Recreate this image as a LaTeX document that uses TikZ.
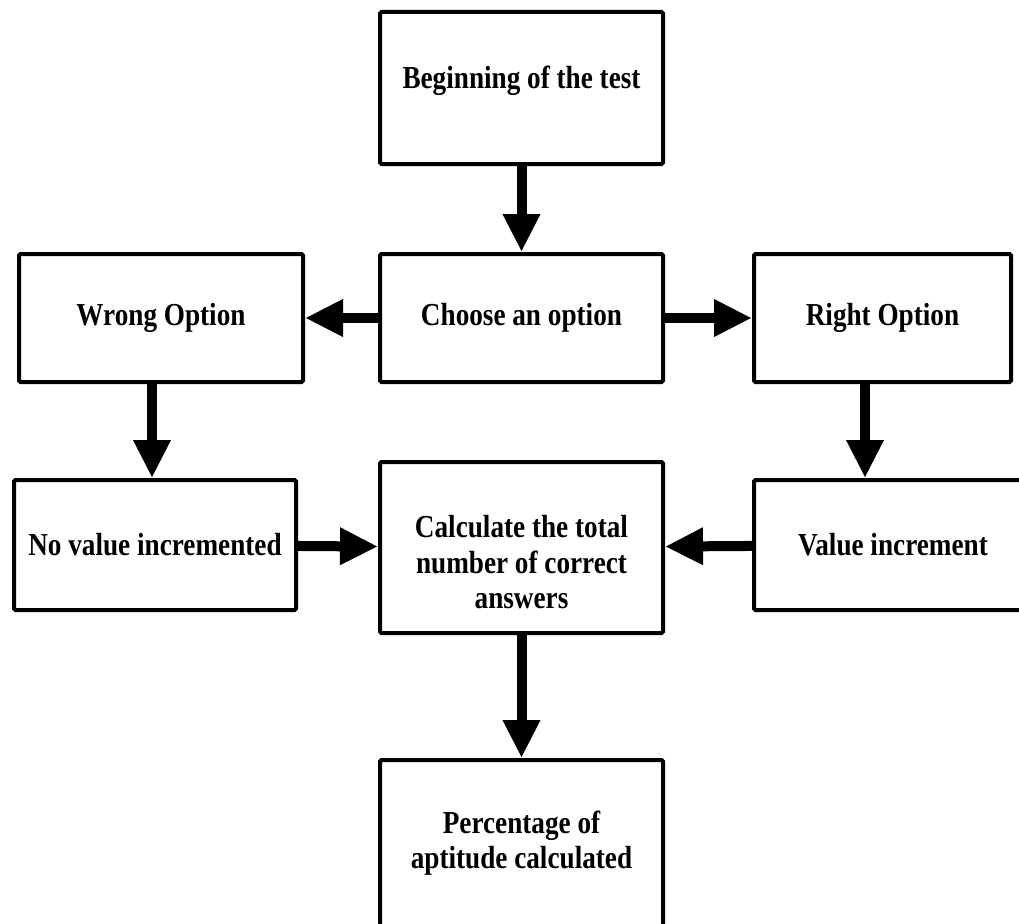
\documentclass[tikz,border=0pt]{standalone}
\usepackage{fontspec}
\setmainfont[FakeStretch=0.85]{Liberation Serif}
\usetikzlibrary{arrows.meta}
\begin{document}
\begin{tikzpicture}[x=1pt,y=-1pt,
  box/.style={draw=black,line width=4pt,rounded corners=1.5pt,fill=white,
    align=center,inner sep=0pt,font=\fontsize{32}{35.5}\selectfont\bfseries},
  flow/.style={line width=10pt,-{Triangle[length=38pt,width=35pt]}}]
\clip (0,0) rectangle (1019,923);
\fill[white] (0,0) rectangle (1019,923);
\node[box,minimum width=283pt,minimum height=152pt,text depth=22pt] (beg) at (521.5,88) {Beginning of the test};
\node[box,minimum width=283pt,minimum height=128pt] (choose) at (521.5,318) {Choose an option};
\node[box,minimum width=284pt,minimum height=128pt] (wrong) at (161,318) {Wrong Option};
\node[box,minimum width=257pt,minimum height=128pt] (right) at (882.5,318) {Right Option};
\node[box,minimum width=282pt,minimum height=130pt] (nov) at (155,545) {No value incremented};
\node[box,minimum width=283pt,minimum height=171pt] (calc) at (521.5,547.5) {\rule{0pt}{52pt}Calculate the total\\number of correct\\answers};
\node[box,minimum width=278pt,minimum height=130pt] (val) at (893,545) {Value increment};
\node[box,minimum width=283pt,minimum height=166pt] (pct) at (521.5,843) {Percentage of\\aptitude calculated};
\draw[flow] (beg) -- (choose);
\draw[flow] (choose) -- (wrong);
\draw[flow] (choose) -- (right);
\draw[flow] ([xshift=-9pt]wrong.south) -- ([xshift=-3pt]nov.north);
\draw[flow] ([xshift=-17.5pt]right.south) -- ([xshift=-28pt]val.north);
\draw[flow] (nov) -- (calc);
\draw[flow] (val) -- (calc);
\draw[flow] (calc) -- (pct);
\end{tikzpicture}
\end{document}
